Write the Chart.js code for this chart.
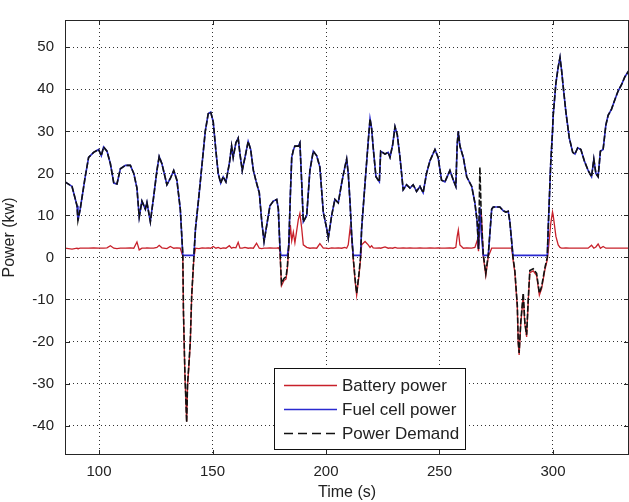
<!DOCTYPE html>
<html>
<head>
<meta charset="utf-8">
<script src="https://cdn.jsdelivr.net/npm/chart.js@4.4.1/dist/chart.umd.min.js"></script>
<style>
  body { margin: 0; background: #fff; }
  #wrap { width: 629px; height: 502px; }
</style>
</head>
<body>
<div id="wrap"><canvas id="powerChart" width="629" height="502"></canvas></div>
<script>
'use strict';

// time in seconds, all three curves sampled at the same instants
let time = [
  85, 88.1, 90.3, 90.7, 91.7, 93.9, 95.4, 97.6, 99.8, 101, 102, 103.5, 105, 106.5, 107.9, 109.4,
  111.6, 113.8, 115.3, 116.7, 117.7, 118.9, 120.4, 121.1, 122.6, 124.1, 125.5, 126.5, 127.7, 129.9,
  131.4, 132.9, 134.3, 135.8, 136.9, 137.2, 137.8, 138.6, 139.0, 139.6, 140.2, 140.8, 141.8, 142.5,
  144.0, 145.4, 146.8, 148.1, 149.2, 150.3, 151.5, 152.5, 153.6, 154.7, 155.9, 157.4, 158.4, 159.1,
  160.3, 161.3, 162.1, 163.1, 164.3, 165.7, 166.8, 168.0, 169.4, 170.6, 171.7, 172.7, 173.9, 175.3,
  176.8, 178.3, 179.0, 179.7, 180.1, 180.4, 181.5, 182.4, 183.0, 183.6, 184.3, 184.9, 185.6, 186.3,
  187.8, 188.5, 189.3, 190.0, 191.5, 192.9, 194.4, 195.9, 197.3, 198.8, 200.3, 201.0, 202.5, 203.9,
  205.4, 206.9, 208.3, 209.1, 209.8, 210.6, 211.3, 212.0, 212.8, 213.5, 214.5, 215.2, 215.7, 217.2,
  218.6, 219.4, 220.1, 220.8, 222.0, 223.5, 224.1, 226.0, 227.4, 228.2, 229.4, 230.4, 231.4, 232.6,
  234.0, 235.5, 237.0, 238.4, 239.9, 241.4, 242.8, 244.3, 245.8, 248.0, 249.4, 250.9, 252.4, 254.6,
  256.1, 257.2, 257.8, 258.3, 259.0, 260.5, 262.0, 264.2, 265.6, 266.6, 267.2, 267.8, 268.4, 269.3,
  270.4, 271.5, 273.0, 273.7, 276.6, 278.1, 279.3, 280.3, 281.0, 281.8, 282.4, 283.2, 284.3, 284.7,
  285.1, 285.8, 286.9, 287.6, 288.4, 289.1, 289.8, 291.3, 292.8, 294.0, 295.0, 296.5, 297.5, 297.9,
  299.0, 299.8, 300.1, 301.3, 302.3, 303.1, 303.8, 304.5, 305.7, 307.2, 308.7, 309.7, 310.9, 312.3,
  313.8, 315.5, 317.0, 318.0, 318.9, 319.9, 320.9, 322.1, 323.3, 324.3, 325.8, 327.3, 328.7, 330.2,
  331.7, 333.5
];

let demand = [
  18.0, 16.9, 12.3, 8.8, 11.5, 19.2, 23.8, 25.0, 25.7, 24.2, 26.3, 25.3, 22.3, 17.7, 17.5, 21.1,
  21.9, 21.9, 20.0, 16.5, 9.6, 13.4, 11.5, 13.1, 8.5, 14.6, 20.7, 24.0, 22.3, 17.3,
  18.8, 20.7, 18.4, 11.5, 0.8, -13.0, -26.9, -39.2, -30.0, -25.3, -20.0, -9.2, 0.5, 6.9,
  14.6, 22.3, 30.0, 34.2, 34.6, 32.3, 25.3, 20.0, 17.7, 19.2, 18.0, 22.3, 26.5, 23.8,
  27.3, 28.4, 24.6, 20.7, 23.8, 27.6, 25.7, 20.7, 17.7, 15.4, 8.5, 3.8, 7.7, 12.3,
  13.4, 13.8, 11.5, 2.3, -3.0, -6.2, -5.0, -4.6, -2.0, 3.0, 15.0, 23.8, 25.5, 26.5,
  26.5, 27.3, 17.7, 8.5, 10.0, 20.7, 25.3, 24.2, 21.5, 10.8, 6.9, 4.6, 10.0, 13.8,
  13.0, 17.7, 21.5, 23.4, 20.0, 13.0, 5.4, 0.0, -5.0, -8.5, -4.0, 0.0, 6.9, 17.7,
  27.6, 33.0, 30.7, 26.1, 19.2, 18.0, 25.3, 24.6, 25.0, 23.8, 26.9, 31.1, 29.2, 23.8,
  16.1, 17.3, 16.5, 17.3, 15.7, 16.9, 15.4, 20.0, 23.0, 25.7, 23.8, 18.4, 18.0, 20.7,
  18.4, 16.9, 26.9, 30.0, 26.5, 23.8, 19.2, 16.9, 13.0, 8.5, 2.0, 21.5, 10.0, 0.7,
  -3.8, 0.7, 11.5, 12.0, 12.0, 11.1, 10.8, 11.0, 8.5, 3.8, 0.0, -3.1, -11.5, -20.0,
  -22.7, -15.4, -8.5, -15.4, -18.4, -10.0, -3.1, -2.7, -3.8, -8.5, -6.9, -2.3, 0.0, 6.9,
  22.3, 30.0, 33.8, 41.5, 45.3, 47.6, 44.5, 40.7, 34.6, 28.4, 25.0, 24.6, 26.1, 25.7,
  23.0, 20.7, 19.2, 23.4, 20.0, 19.2, 25.3, 25.7, 31.5, 33.8, 35.3, 37.6, 39.6, 41.1,
  43.0, 44.5
];

let battery = [
  2.2, 2.0, 2.2, 2.1, 2.2, 2.2, 2.2, 2.3, 2.2, 2.2, 2.2, 2.3, 2.8, 2.2, 2.1, 2.2,
  2.2, 2.3, 2.2, 3.7, 1.8, 2.2, 2.2, 2.3, 2.2, 2.2, 2.4, 2.9, 2.3, 2.1,
  2.6, 2.2, 2.3, 2.2, 0.3, -13.5, -27.4, -39.0, -30.5, -25.8, -20.5, -9.7, 0.0, 2.2,
  2.1, 2.3, 2.2, 2.3, 2.2, 2.6, 2.2, 2.4, 2.1, 2.3, 2.2, 2.8, 2.2, 2.4,
  2.3, 3.6, 2.2, 2.2, 2.4, 2.2, 2.3, 2.2, 3.4, 2.2, 2.1, 2.2, 2.2, 2.3,
  2.2, 2.2, 2.3, 1.8, -3.5, -6.7, -5.5, -5.1, -2.5, 2.5, 7.7, 4.0, 6.0, 3.5,
  9.0, 10.5, 6.9, 3.0, 2.4, 2.2, 2.3, 2.2, 3.3, 2.2, 2.2, 2.1, 2.3, 2.2,
  2.3, 2.2, 2.4, 2.2, 3.0, 6.9, 5.0, -0.5, -5.5, -9.0, -4.5, -0.5, 3.0, 3.8,
  3.0, 2.4, 2.8, 2.3, 2.2, 2.3, 2.2, 2.5, 2.2, 2.3, 2.2, 2.4, 2.2, 2.2,
  2.3, 2.2, 2.3, 2.2, 2.2, 2.3, 2.2, 2.2, 2.3, 2.2, 2.3, 2.2, 2.2, 2.3,
  2.2, 2.4, 5.0, 6.5, 3.0, 2.2, 2.3, 2.2, 2.4, 4.0, 1.5, 8.0, 11.0, 0.2,
  -4.3, 0.2, 2.2, 2.2, 2.2, 2.2, 2.2, 2.2, 2.2, 2.2, -0.5, -3.6, -12.0, -20.5,
  -23.2, -15.9, -9.0, -15.9, -18.9, -10.5, -3.6, -3.2, -4.3, -9.0, -7.4, -2.8, -0.5, 1.5,
  8.0, 10.8, 10.0, 5.0, 3.0, 2.4, 2.2, 2.2, 2.3, 2.2, 2.2, 2.2, 2.2, 2.2,
  2.2, 2.2, 2.9, 2.2, 2.5, 3.2, 2.2, 2.6, 2.2, 2.2, 2.2, 2.2, 2.2, 2.2,
  2.2, 2.2
];

let fuelCell = [
  18.0, 16.9, 12.3, 8.8, 11.5, 19.2, 23.8, 25.0, 25.7, 24.2, 26.3, 25.3, 22.3, 17.7, 17.5, 21.1,
  21.9, 21.9, 20.0, 16.5, 9.6, 13.4, 11.5, 13.1, 8.5, 14.6, 20.7, 24.0, 22.3, 17.3,
  18.8, 20.7, 18.4, 11.5, 0.5, 0.5, 0.5, 0.5, 0.5, 0.5, 0.5, 0.5, 0.5, 6.9,
  14.6, 22.3, 30.0, 34.2, 34.6, 32.3, 25.3, 20.0, 17.7, 19.2, 18.0, 22.3, 26.5, 23.8,
  27.3, 28.4, 24.6, 20.7, 23.8, 27.6, 25.7, 20.7, 17.7, 15.4, 8.5, 3.8, 7.7, 12.3,
  13.4, 13.8, 11.5, 2.3, 0.5, 0.5, 0.5, 0.5, 0.5, 3.0, 15.0, 23.8, 25.5, 26.5,
  26.5, 27.3, 17.7, 8.5, 10.0, 20.7, 25.3, 24.2, 21.5, 10.8, 6.9, 4.6, 10.0, 13.8,
  13.0, 17.7, 21.5, 23.4, 20.0, 13.0, 5.4, 0.5, 0.5, 0.5, 0.5, 0.5, 6.9, 17.7,
  27.6, 33.0, 30.7, 26.1, 19.2, 18.0, 25.3, 24.6, 25.0, 23.8, 26.9, 31.1, 29.2, 23.8,
  16.1, 17.3, 16.5, 17.3, 15.7, 16.9, 15.4, 20.0, 23.0, 25.7, 23.8, 18.4, 18.0, 20.7,
  18.4, 16.9, 26.9, 30.0, 26.5, 23.8, 19.2, 16.9, 13.0, 8.5, 2.0, 12.0, 6.0, 0.5,
  0.5, 0.5, 11.5, 12.0, 12.0, 11.1, 10.8, 11.0, 8.5, 3.8, 0.5, 0.5, 0.5, 0.5,
  0.5, 0.5, 0.5, 0.5, 0.5, 0.5, 0.5, 0.5, 0.5, 0.5, 0.5, 0.5, 0.5, 6.9,
  22.3, 30.0, 33.8, 41.5, 45.3, 47.6, 44.5, 40.7, 34.6, 28.4, 25.0, 24.6, 26.1, 25.7,
  23.0, 20.7, 19.2, 23.4, 20.0, 19.2, 25.3, 25.7, 31.5, 33.8, 35.3, 37.6, 39.6, 41.1,
  43.0, 44.5
];

let seriesNames = ['Battery power', 'Fuel cell power', 'Power Demand'];
let xTicks = [100, 150, 200, 250, 300];
let yTicks = [-40, -30, -20, -10, 0, 10, 20, 30, 40, 50];

function toPoints(values) {
  return time.map((t, i) => ({ x: t, y: values[i] }));
}

// matlab style: box round the axes, ticks pointing inwards, legend inside
let matlabFrame = {
  id: 'matlabFrame',
  afterDraw(chart) {
    let ctx = chart.ctx;
    let a = chart.chartArea;
    let xs = chart.scales.x;
    let ys = chart.scales.y;
    ctx.save();
    ctx.strokeStyle = '#262626';
    ctx.lineWidth = 1;
    ctx.setLineDash([]);
    ctx.strokeRect(a.left + 0.5, a.top + 0.5, a.right - a.left - 1, a.bottom - a.top - 1);
    ctx.beginPath();
    xTicks.forEach(v => {
      let px = Math.round(xs.getPixelForValue(v)) + 0.5;
      ctx.moveTo(px, a.bottom); ctx.lineTo(px, a.bottom - 5);
      ctx.moveTo(px, a.top); ctx.lineTo(px, a.top + 5);
    });
    yTicks.forEach(v => {
      let py = Math.round(ys.getPixelForValue(v)) + 0.5;
      ctx.moveTo(a.left, py); ctx.lineTo(a.left + 5, py);
      ctx.moveTo(a.right, py); ctx.lineTo(a.right - 5, py);
    });
    ctx.stroke();

    // legend box
    let bx = 274, by = 368, bw = 191, bh = 81;
    ctx.fillStyle = '#fff';
    ctx.fillRect(bx, by, bw, bh);
    ctx.strokeStyle = '#111';
    ctx.strokeRect(bx + 0.5, by + 0.5, bw, bh);
    ctx.font = '17px "Liberation Sans", Arial, sans-serif';
    ctx.textBaseline = 'middle';
    chart.data.datasets.forEach((ds, i) => {
      let ly = by + 17 + i * 24;
      ctx.strokeStyle = ds.borderColor;
      ctx.lineWidth = 1.4;
      ctx.setLineDash(i === 2 ? [9, 5] : []);
      ctx.beginPath();
      ctx.moveTo(bx + 10, ly + 0.5);
      ctx.lineTo(bx + 63, ly + 0.5);
      ctx.stroke();
      ctx.setLineDash([]);
      ctx.fillStyle = '#222';
      ctx.fillText(ds.label, bx + 68, ly + 1);
    });
    ctx.restore();
  }
};

let ctx = document.getElementById('powerChart').getContext('2d');
let powerChart = new Chart(ctx, {
  type: 'line',
  data: {
    datasets: [
      {
        label: seriesNames[0],
        data: toPoints(battery),
        borderColor: '#c8202a',
        borderWidth: 1.3,
        pointRadius: 0,
        tension: 0,
        order: 3
      },
      {
        label: seriesNames[1],
        data: toPoints(fuelCell),
        borderColor: '#2a2ad0',
        borderWidth: 1.6,
        pointRadius: 0,
        tension: 0,
        order: 2
      },
      {
        label: seriesNames[2],
        data: toPoints(demand),
        borderColor: '#111111',
        borderWidth: 1.6,
        borderDash: [6, 2],
        pointRadius: 0,
        tension: 0,
        order: 1
      }
    ]
  },
  options: {
    responsive: false,
    animation: false,
    events: [],
    layout: { padding: { top: 6, right: 0, left: 0, bottom: 0 } },
    plugins: {
      legend: { display: false },
      tooltip: { enabled: false }
    },
    scales: {
      x: {
        type: 'linear',
        min: 85,
        max: 333.5,
        afterBuildTicks: (scale) => { scale.ticks = xTicks.map(v => ({ value: v })); },
        afterFit: (scale) => { scale.height = 47; },
        ticks: {
          padding: 8,
          color: '#222',
          font: { family: '"Liberation Sans", Arial, sans-serif', size: 15 }
        },
        grid: { color: 'rgba(0,0,0,0.8)', lineWidth: 1, drawTicks: false },
        border: { display: false, dash: [1, 3] },
        title: {
          display: true,
          text: 'Time (s)',
          color: '#222',
          padding: { top: 2, bottom: 0 },
          font: { family: '"Liberation Sans", Arial, sans-serif', size: 16 }
        }
      },
      y: {
        min: -47,
        max: 56.5,
        afterBuildTicks: (scale) => { scale.ticks = yTicks.map(v => ({ value: v })); },
        afterFit: (scale) => { scale.width = 65; },
        ticks: {
          padding: 11,
          color: '#222',
          font: { family: '"Liberation Sans", Arial, sans-serif', size: 15 }
        },
        grid: { color: 'rgba(0,0,0,0.8)', lineWidth: 1, drawTicks: false },
        border: { display: false, dash: [1, 3] },
        title: {
          display: true,
          text: 'Power (kw)',
          color: '#222',
          padding: { top: 0, bottom: 0 },
          font: { family: '"Liberation Sans", Arial, sans-serif', size: 16 }
        }
      }
    }
  },
  plugins: [matlabFrame]
});
</script>
</body>
</html>
